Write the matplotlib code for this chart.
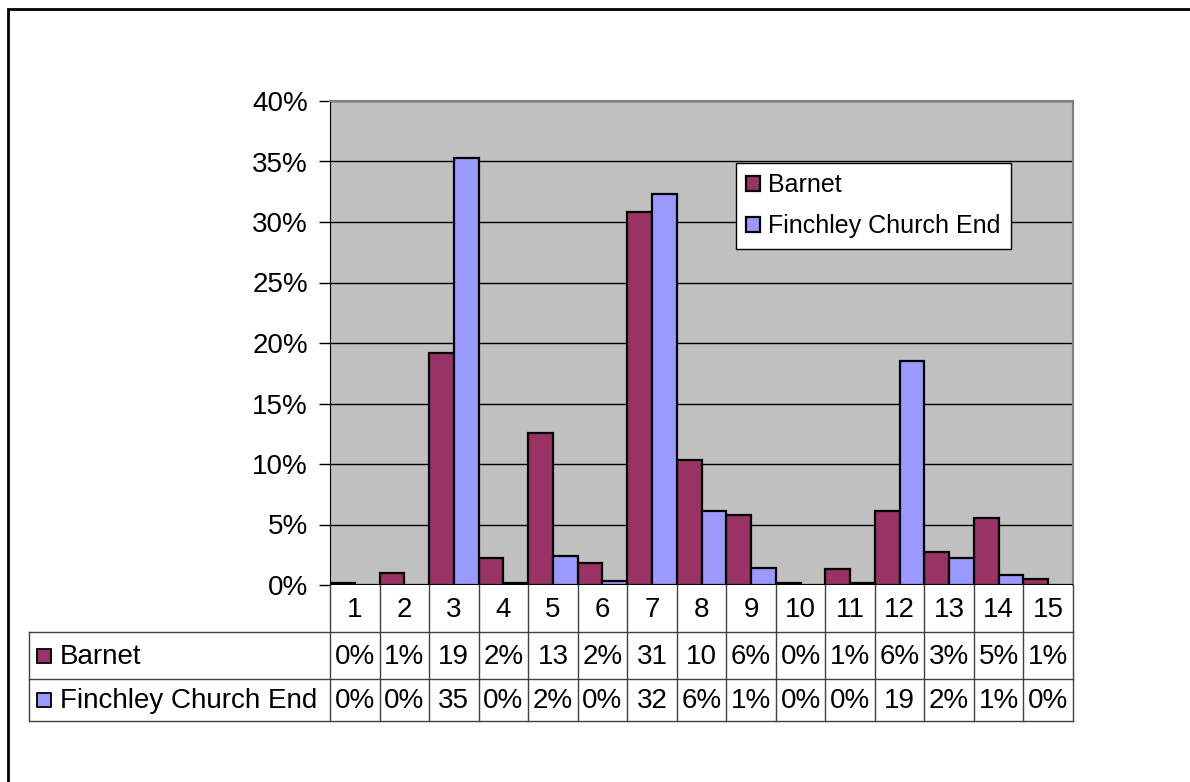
import numpy as np
import matplotlib
matplotlib.use('Agg')
import matplotlib.pyplot as plt
from matplotlib.patches import Rectangle

plt.rcParams['font.family'] = ['Liberation Sans', 'DejaVu Sans']

# data (fractions)
categories = [str(i) for i in range(1, 16)]
barnet = [0.002, 0.0097, 0.192, 0.0226, 0.126, 0.018, 0.308, 0.103, 0.058, 0.002,
          0.013, 0.061, 0.027, 0.055, 0.0047]
finchley = [0.0, 0.0, 0.353, 0.002, 0.024, 0.0036, 0.323, 0.061, 0.0143, 0.0,
            0.002, 0.185, 0.0226, 0.008, 0.0]
# data table text, as shown (Excel truncates the wide cells)
barnet_labels = ['0%', '1%', '19', '2%', '13', '2%', '31', '10', '6%', '0%',
                 '1%', '6%', '3%', '5%', '1%']
finchley_labels = ['0%', '0%', '35', '0%', '2%', '0%', '32', '6%', '1%', '0%',
                   '0%', '19', '2%', '1%', '0%']
series_names = ['Barnet', 'Finchley Church End']
colors = ['#993366', '#9999FF']

W, H = 1190, 782
FS = 20
fig = plt.figure(figsize=(W / 100, H / 100), dpi=100)

def px_axes(l, t, r, b):
    return fig.add_axes([l / W, 1 - b / H, (r - l) / W, (b - t) / H])

# outer chart border
fig.add_artist(Rectangle((8 / W, -0.1), 1.2, 1 - 9 / H + 0.1, transform=fig.transFigure,
                         fill=False, edgecolor='black', linewidth=2))

ax_l, ax_r, ax_t, ax_b = 330, 1073, 101, 585
ax = px_axes(ax_l, ax_t, ax_r, ax_b)
ax.set_facecolor('#C0C0C0')
x = np.arange(1, 16)
ax.bar(x - 0.25, barnet, width=0.5, color=colors[0], edgecolor='black', linewidth=1.6,
       label=series_names[0], zorder=3)
ax.bar(x + 0.25, finchley, width=0.5, color=colors[1], edgecolor='black', linewidth=1.6,
       label=series_names[1], zorder=3)
ax.set_xlim(0.5, 15.5)
ax.set_ylim(0, 0.40)
ax.set_yticks(np.arange(0, 0.41, 0.05))
ax.set_yticklabels(['%d%%' % round(v * 100) for v in np.arange(0, 0.41, 0.05)], fontsize=20)
ax.yaxis.grid(True, color='black', linewidth=1)
ax.set_axisbelow(True)
ax.set_xticks([])
ax.tick_params(axis='y', length=8, width=1, pad=8, color='black')
for s in ['top', 'right']:
    ax.spines[s].set_color('#808080')
    ax.spines[s].set_linewidth(1.5)
ax.spines['left'].set_color('black')
ax.spines['bottom'].set_visible(False)

leg = ax.legend(loc='upper left', bbox_to_anchor=((736 - ax_l) / (ax_r - ax_l), 1 - (163 - ax_t) / (ax_b - ax_t)),
                fontsize=18, frameon=True, fancybox=False, edgecolor='black', framealpha=1,
                handlelength=0.55, handleheight=0.55, handletextpad=0.35, borderpad=0.4,
                labelspacing=0.7, borderaxespad=0)
leg.get_frame().set_linewidth(1)
leg.get_frame().set_facecolor('white')

# data table under the plot
tab_l = 29
cat_w = (ax_r - ax_l) / 15.0
tax = px_axes(tab_l, ax_b, ax_r, 722)
tax.set_xlim(0.5 - (ax_l - tab_l) / cat_w, 15.5)
tax.set_ylim(722, ax_b)
tax.axis('off')
x0 = tax.get_xlim()[0]
rows = [ax_b, 632, 679, 721]
lc = '#404040'
for y in rows[1:]:
    tax.plot([x0, 15.5], [y, y], color=lc, lw=1, clip_on=False)
tax.plot([x0, x0], [rows[1], rows[3]], color=lc, lw=1, clip_on=False)
for b in np.arange(0.5, 15.6, 1.0):
    tax.plot([b, b], [rows[0], rows[3]], color=lc, lw=1, clip_on=False)

for i, c in enumerate(categories):
    tax.text(i + 1, (rows[0] + rows[1]) / 2 + 1, c, ha='center', va='center', fontsize=FS)
    tax.text(i + 1, (rows[1] + rows[2]) / 2 + 1, barnet_labels[i], ha='center', va='center', fontsize=FS)
    tax.text(i + 1, (rows[2] + rows[3]) / 2 + 1, finchley_labels[i], ha='center', va='center', fontsize=FS)

for k, name in enumerate(series_names):
    yc = (rows[k + 1] + rows[k + 2]) / 2
    tax.add_patch(Rectangle((x0 + 8 / cat_w, yc - 7), 14 / cat_w, 14, facecolor=colors[k],
                            edgecolor='black', lw=1.3, clip_on=False))
    tax.text(x0 + 31 / cat_w, yc + 1, name, ha='left', va='center', fontsize=FS)

fig.savefig('out.png', dpi=100)
